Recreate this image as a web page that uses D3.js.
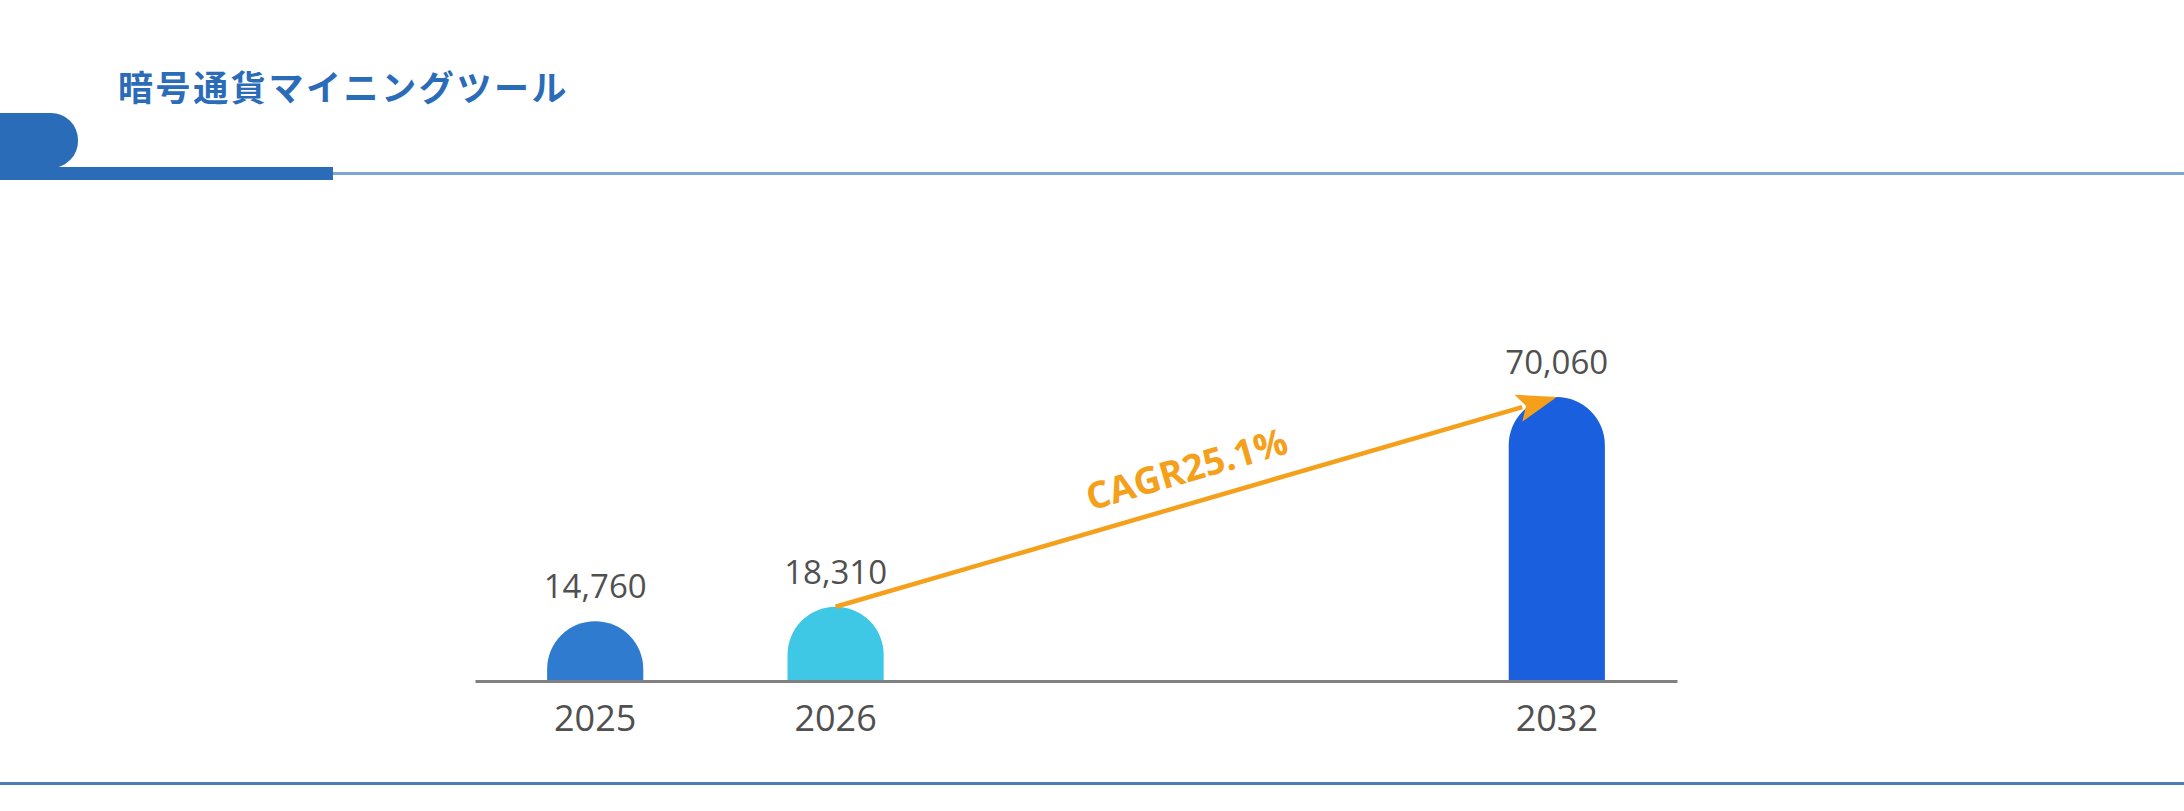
<!DOCTYPE html>
<html>

<head>
    <meta charset=utf-8 />
    <script src="https://cdn.jsdelivr.net/npm/d3@7"></script>
    <title>暗号通貨マイニングツール</title>
    <style>
        html,
        body {
            margin: 0;
            padding: 0;
            background: #fff;
        }

        svg {
            display: block;
            width: 2184px;
            height: 811px;
        }

        .num {
            font-family: "Open Sans", "Noto Sans", sans-serif;
            fill: #505050;
        }
    </style>
</head>

<body>
    <svg></svg>
    <script>
        // data
        var title = '暗号通貨マイニングツール';
        var years = ['2025', '2026', '2032'];
        var values = [14760, 18310, 70060];
        // x slots: 2027-2031 are left empty on the axis
        var axisSlots = ['2025', '2026', 'gap-a', 'gap-b', '2032'];
        var cagrFrom = '2026';
        var cagrTo = '2032';
        var cagrLabel = 'CAGR25.1%';

        var barColors = ['#2f7bd0', '#3ec8e5', '#1a5fdd'];
        var orange = '#f5a01a';

        var svg = d3.select('svg')
            .attr('viewBox', '0 0 2184 811');

        // ---- header ----
        var head = svg.append('g');
        head.append('text')
            .attr('x', 118)
            .attr('y', 101)
            .attr('font-family', '"Noto Sans CJK JP", sans-serif')
            .attr('font-weight', 700)
            .attr('font-size', 35)
            .attr('letter-spacing', 2.6)
            .attr('fill', '#2b6cb8')
            .text(title);

        head.append('line')
            .attr('x1', 330).attr('x2', 2184)
            .attr('y1', 173.5).attr('y2', 173.5)
            .attr('stroke', '#7fa5d4')
            .attr('stroke-width', 3);
        head.append('rect')
            .attr('x', 0).attr('y', 167)
            .attr('width', 333).attr('height', 13)
            .attr('fill', '#2b6cb8');
        head.append('path')
            .attr('d', 'M0,113 H50 A27,27 0 0 1 78,140 A27,27 0 0 1 50,168 H0 Z')
            .attr('fill', '#2b6cb8');

        svg.append('line')
            .attr('x1', 0).attr('x2', 2184)
            .attr('y1', 783.5).attr('y2', 783.5)
            .attr('stroke', '#4d7cba')
            .attr('stroke-width', 3);

        // ---- chart ----
        var baseY = 681;

        var x = d3.scaleBand()
            .domain(axisSlots)
            .range([475, 1677])
            .paddingInner(0.6)
            .paddingOuter(0.3);

        var y = d3.scaleLinear()
            .domain([0, d3.max(values)])
            .range([baseY, 397]);

        var data = years.map(function (yr, i) {
            return { year: yr, value: values[i] };
        });

        var color = d3.scaleOrdinal().domain(years).range(barColors);

        function barPath(d) {
            var w = x.bandwidth();
            var r = w / 2;
            var x0 = x(d.year);
            var top = y(d.value);
            return 'M' + x0 + ',' + baseY +
                ' L' + x0 + ',' + (top + r) +
                ' A' + r + ',' + r + ' 0 0 1 ' + (x0 + w) + ',' + (top + r) +
                ' L' + (x0 + w) + ',' + baseY + ' Z';
        }

        var cx = function (yr) { return x(yr) + x.bandwidth() / 2; };

        svg.append('g').selectAll('path')
            .data(data)
            .enter().append('path')
            .attr('d', barPath)
            .attr('fill', function (d) { return color(d.year); });

        // axis line + year labels
        var axis = d3.axisBottom(x)
            .tickValues(years)
            .tickSize(0)
            .tickPadding(14);

        var ax = svg.append('g')
            .attr('transform', 'translate(0,' + baseY + ')')
            .call(axis);
        ax.select('.domain')
            .attr('stroke', '#808080')
            .attr('stroke-width', 3);
        ax.selectAll('text')
            .attr('class', 'num')
            .attr('font-size', 36)
            .attr('dy', '0.71em')
            .attr('y', 24);

        // value labels
        svg.append('g').selectAll('text')
            .data(data)
            .enter().append('text')
            .attr('class', 'num')
            .attr('x', function (d) { return cx(d.year); })
            .attr('y', function (d) { return y(d.value) - 23; })
            .attr('text-anchor', 'middle')
            .attr('font-size', 33)
            .text(function (d) { return d3.format(',')(d.value); });

        // CAGR arrow
        var v0 = values[years.indexOf(cagrFrom)];
        var v1 = values[years.indexOf(cagrTo)];
        var p0 = [cx(cagrFrom), y(v0)];
        var p1 = [cx(cagrTo), y(v1)];
        var ang = Math.atan2(p1[1] - p0[1], p1[0] - p0[0]);
        var deg = ang * 180 / Math.PI;
        var headLen = 40;
        var headHalf = 14;
        var ux = Math.cos(ang), uy = Math.sin(ang);
        var bx = p1[0] - ux * headLen, by = p1[1] - uy * headLen;

        svg.append('line')
            .attr('x1', p0[0]).attr('y1', p0[1])
            .attr('x2', bx + ux * 4).attr('y2', by + uy * 4)
            .attr('stroke', orange)
            .attr('stroke-width', 4.5);

        svg.append('path')
            .attr('d', 'M' + p1[0] + ',' + p1[1] +
                ' L' + (bx - uy * headHalf) + ',' + (by + ux * headHalf) +
                ' L' + (bx + ux * 8) + ',' + (by + uy * 8) +
                ' L' + (bx + uy * headHalf) + ',' + (by - ux * headHalf) + ' Z')
            .attr('fill', orange);

        var mx = (p0[0] + p1[0]) / 2, my = (p0[1] + p1[1]) / 2;
        svg.append('text')
            .attr('transform', 'translate(' + mx + ',' + my + ') rotate(' + deg + ')')
            .attr('y', -21)
            .attr('text-anchor', 'middle')
            .attr('font-family', '"Open Sans", "Noto Sans", sans-serif')
            .attr('font-weight', 700)
            .attr('font-size', 37)
            .attr('fill', orange)
            .text(cagrLabel);
    </script>
</body>

</html>
